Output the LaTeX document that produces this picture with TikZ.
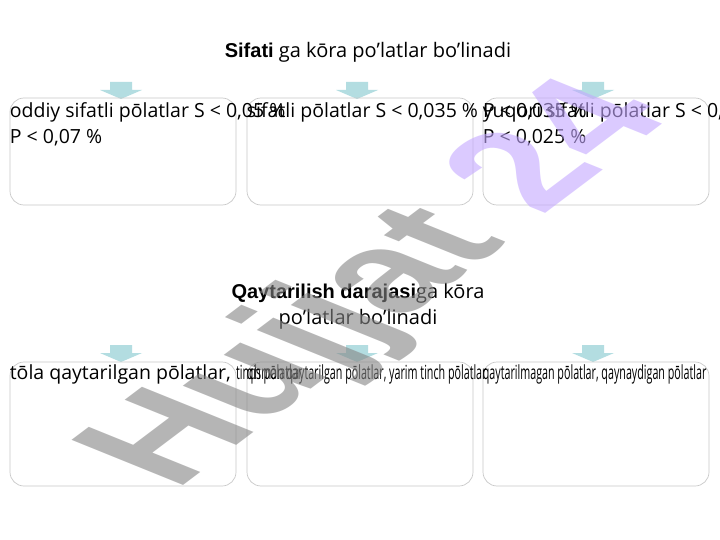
\documentclass[tikz,border=0pt]{standalone}
\usepackage{fontspec}
\setmainfont{Open Sans}
\newfontfamily\headfont{Liberation Sans}
\usetikzlibrary{positioning}

\definecolor{boxline}{HTML}{C9C9C9}
\definecolor{arrowfill}{HTML}{B3DDE1}
\definecolor{wmgray}{HTML}{858585}
\definecolor{wmpurple}{HTML}{C4A8FF}

\tikzset{
  box/.style={draw=boxline, line width=0.7pt, rounded corners=14pt,
    minimum width=226pt, inner sep=0pt},
  boxtext/.style={anchor=north west, inner sep=0pt, align=left,
    font=\fontsize{19.5}{26}\selectfont},
  title/.style={anchor=north, inner sep=0pt, align=center,
    font=\fontsize{20}{26}\selectfont},
}

\newcommand{\squeeze}[1]{\scalebox{0.55}[1]{#1}}

\begin{document}
\begin{tikzpicture}[x=1pt,y=-1pt]
\fill[white] (0,0) rectangle (720,540);
\useasboundingbox (0,0) rectangle (720,540);

% headings
\node[title] (head1) at (368,42) {{\headfont\bfseries Sifati} ga kōra po’latlar bo’linadi};
\node[title] (head2) at (358,283) {{\headfont\bfseries Qaytarilish darajasi}ga kōra\\po’latlar bo’linadi};

% block arrows
\foreach \ytop in {82,345} {
  \foreach \xpos in {121,357,593} {
    \fill[arrowfill] (\xpos-11,\ytop) -- (\xpos+11,\ytop) -- (\xpos+11,\ytop+8)
      -- (\xpos+21,\ytop+8) -- (\xpos,\ytop+17) -- (\xpos-21,\ytop+8)
      -- (\xpos-11,\ytop+8) -- cycle;
  }
}

% boxes
\foreach \name/\xpos in {1/123, 2/360, 3/596} {
  \node[box, minimum height=107pt] (sif\name) at (\xpos,151.5) {};
  \node[box, minimum height=124pt] (qay\name) at (\xpos,424) {};
}

% texts in the boxes, running over as in the slide
\begin{scope}
\clip (0,0) rectangle (720,540);
\node[boxtext] (t1) at ([yshift=-5pt]sif1.north west) {oddiy sifatli pōlatlar S < 0,05 \%\\P < 0,07 \%};
\node[boxtext] (t2) at ([yshift=-5pt]sif2.north west) {sifatli pōlatlar S < 0,035 \% P < 0,035 \%};
\node[boxtext] (t3) at ([yshift=-5pt]sif3.north west) {yuqori sifatli pōlatlar S < 0,025 \%\\P < 0,025 \%};
\node[boxtext] (u1) at ([yshift=-3pt]qay1.north west) {tōla qaytarilgan pōlatlar, \squeeze{tinch pōlatlar}};
\node[boxtext] (u2) at ([yshift=-3pt]qay2.north west) {\squeeze{qisman qaytarilgan pōlatlar, yarim tinch pōlatlar}};
\node[boxtext] (u3) at ([yshift=-3pt]qay3.north west) {\squeeze{qaytarilmagan pōlatlar, qaynaydigan pōlatlar}};
\end{scope}

% watermark
\begin{scope}
\clip (0,0) rectangle (720,540);
\begin{scope}[shift={(175,492)}, rotate=37, xslant=-0.6]
\node[transform shape, anchor=base west, inner sep=0pt, text=wmgray, opacity=0.6,
  font=\headfont\bfseries\fontsize{150}{150}\selectfont] (mark) at (0,0)
  {Hujjat \textcolor{wmpurple}{24}};
\end{scope}
\end{scope}
\end{tikzpicture}
\end{document}
